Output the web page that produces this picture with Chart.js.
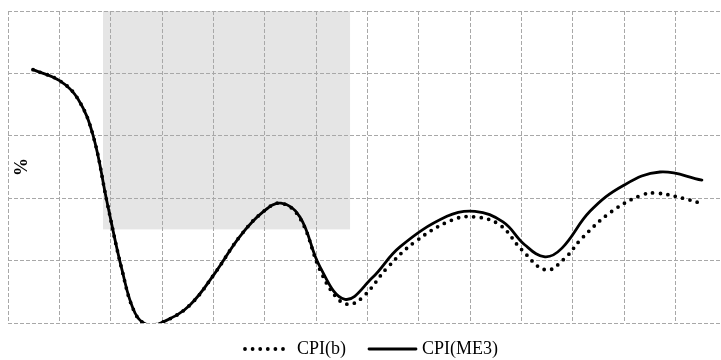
<!DOCTYPE html>
<html>
<head>
<meta charset="utf-8">
<script src="https://cdn.jsdelivr.net/npm/chart.js@4/dist/chart.umd.min.js"></script>
<style>
  html, body { margin: 0; padding: 0; background: #fff; overflow: hidden; }
  #wrap { width: 728px; height: 360px; }
</style>
</head>
<body>
<div id="wrap"><canvas id="grafico" width="728" height="360"></canvas></div>
<script>
// CPI(b) - pontilhada
const cpiBX = [0.487, 1.012, 1.363, 1.655, 1.928, 2.220, 2.473, 2.726, 3.057, 3.544, 4.030, 4.517, 4.965, 5.315, 5.685,
  6.075, 6.406, 6.659, 6.951, 7.379, 7.924, 8.645, 9.093, 9.579, 10.008, 10.475, 10.845, 11.176, 11.760, 12.344, 12.656, 13.279, 13.512];
const cpiBY = [4.06, 3.88, 3.59, 3.01, 1.94, 0.85, 0.16, -0.03, 0.03, 0.29, 0.80, 1.39, 1.78, 1.92, 1.68,
  0.85, 0.40, 0.30, 0.45, 0.88, 1.30, 1.65, 1.70, 1.57, 1.17, 0.85, 1.04, 1.36, 1.79, 2.05, 2.08, 1.97, 1.91];

// CPI(ME3) - contínua
const cpiME3X = [0.487, 1.012, 1.363, 1.655, 1.928, 2.220, 2.473, 2.726, 3.057, 3.544, 4.030, 4.517, 4.965, 5.315, 5.685,
  6.075, 6.561, 7.087, 7.632, 8.547, 9.093, 9.638, 10.066, 10.456, 10.787, 11.332, 11.974, 12.695, 13.512];
const cpiME3Y = [4.06, 3.88, 3.59, 3.01, 1.94, 0.85, 0.16, -0.03, 0.03, 0.29, 0.80, 1.39, 1.78, 1.92, 1.70,
  0.90, 0.38, 0.72, 1.22, 1.71, 1.79, 1.62, 1.25, 1.06, 1.20, 1.79, 2.20, 2.42, 2.29];

// faixa sombreada
const faixaX = [1.85, 6.66];
const faixaY = [1.5, 5];

const eixoX = { min: 0, max: 14 };
const eixoY = { min: 0, max: 5 };

function juntar(xs, ys) {
  return xs.map((x, i) => ({ x: x, y: ys[i] }));
}

const fonteSerif = '"Liberation Serif", "Times New Roman", serif';

const faixaPlugin = {
  id: 'faixa',
  beforeDraw(chart) {
    const { ctx, scales } = chart;
    const x1 = scales.x.getPixelForValue(faixaX[0]);
    const x2 = scales.x.getPixelForValue(faixaX[1]);
    const y1 = scales.y.getPixelForValue(faixaY[1]);
    const y2 = scales.y.getPixelForValue(faixaY[0]);
    ctx.save();
    ctx.fillStyle = '#e5e5e5';
    ctx.fillRect(x1, y1, x2 - x1, y2 - y1);
    ctx.restore();
  }
};

// legenda desenhada à mão, com amostra de linha de cada série
const legendaPlugin = {
  id: 'legendaManual',
  afterDraw(chart) {
    const { ctx, chartArea } = chart;
    const datasets = chart.data.datasets;
    ctx.save();
    ctx.font = '18px ' + fonteSerif;
    ctx.textBaseline = 'middle';
    const amostra = [44, 47];
    const gapTexto = [10, 6];
    const gapItem = 23;
    let total = 0;
    datasets.forEach((ds, i) => {
      total += amostra[i] + gapTexto[i] + ctx.measureText(ds.label).width;
      if (i < datasets.length - 1) total += gapItem;
    });
    let x = (chartArea.left + chartArea.right) / 2 - total / 2 + 3;
    const y = chartArea.bottom + 26;
    datasets.forEach((ds, i) => {
      ctx.beginPath();
      ctx.setLineDash(ds.borderDash || []);
      ctx.lineCap = ds.borderCapStyle || 'butt';
      ctx.lineWidth = ds.borderWidth;
      ctx.strokeStyle = ds.borderColor;
      ctx.moveTo(x + (ds.borderDash ? 2 : 0), y);
      ctx.lineTo(x + amostra[i], y);
      ctx.stroke();
      x += amostra[i] + gapTexto[i];
      ctx.setLineDash([]);
      ctx.fillStyle = '#000';
      ctx.fillText(ds.label, x, y);
      x += ctx.measureText(ds.label).width + gapItem;
    });

    // título do eixo y
    ctx.translate(chartArea.left + 14, (chartArea.top + chartArea.bottom) / 2);
    ctx.rotate(-Math.PI / 2);
    ctx.font = 'bold 18px ' + fonteSerif;
    ctx.textAlign = 'center';
    ctx.fillText('%', 0, 0);
    ctx.restore();
  }
};

const ctx = document.getElementById('grafico').getContext('2d');
new Chart(ctx, {
  type: 'line',
  data: {
    datasets: [
      {
        label: 'CPI(b)',
        data: juntar(cpiBX, cpiBY),
        borderColor: '#000',
        borderWidth: 3.8,
        borderDash: [0, 7.6],
        borderCapStyle: 'round',
        tension: 0.4,
        pointRadius: 0,
        fill: false,
        order: 1
      },
      {
        label: 'CPI(ME3)',
        data: juntar(cpiME3X, cpiME3Y),
        borderColor: '#000',
        borderWidth: 2.8,
        borderCapStyle: 'round',
        borderJoinStyle: 'round',
        tension: 0.4,
        pointRadius: 0,
        fill: false,
        order: 0
      }
    ]
  },
  options: {
    responsive: false,
    animation: false,
    layout: { padding: { top: 11, left: 8, right: 1, bottom: 37 } },
    plugins: {
      legend: { display: false },
      tooltip: { enabled: false }
    },
    scales: {
      x: {
        type: 'linear',
        min: eixoX.min,
        max: eixoX.max,
        ticks: { display: false, stepSize: 1 },
        grid: { color: '#a8a8a8', lineWidth: 1, drawTicks: false },
        border: { display: false, dash: [4, 2] }
      },
      y: {
        min: eixoY.min,
        max: eixoY.max,
        ticks: { display: false, stepSize: 1 },
        grid: { color: '#a8a8a8', lineWidth: 1, drawTicks: false },
        border: { display: false, dash: [4, 2] }
      }
    }
  },
  plugins: [faixaPlugin, legendaPlugin]
});
</script>
</body>
</html>
